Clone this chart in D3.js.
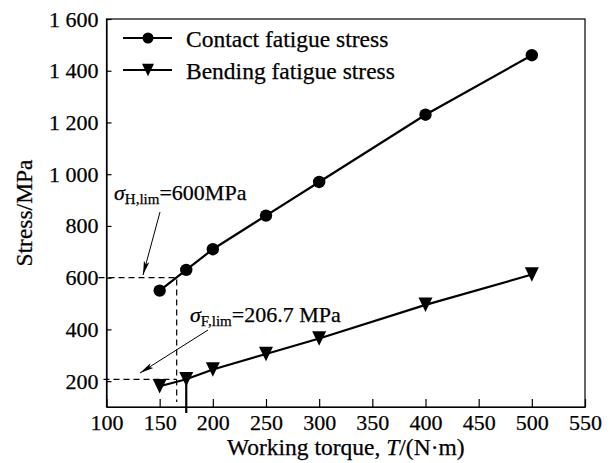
<!DOCTYPE html>
<html>
<head>
<meta charset="utf-8">
<script src="https://cdn.jsdelivr.net/npm/d3@7"></script>
<style>
  html, body { margin: 0; padding: 0; background: #fff; }
  svg { display: block; font-family: "Liberation Serif", "Times New Roman", serif; }
  text { fill: #000; stroke: #000; stroke-width: 0.25px; font-family: "Liberation Serif", "Times New Roman", serif; }
</style>
</head>
<body>
<svg id="chart" width="610" height="463"></svg>
<script>
// Working torque (N·m) at each test point
const torque = [150, 175, 200, 250, 300, 400, 500];
// Contact fatigue stress (MPa)
const contactStress = [550, 630, 710, 840, 970, 1230, 1460];
// Bending fatigue stress (MPa)
const bendingStress = [180, 207, 245, 305, 365, 495, 612];

// Axis ticks
const xTicks = [100, 150, 200, 250, 300, 350, 400, 450, 500, 550];
const yTicks = [200, 400, 600, 800, 1000, 1200, 1400, 1600];
const yTickLabels = ["200", "400", "600", "800", "1 000", "1 200", "1 400", "1 600"];

// Stress limits and the torques where each curve reaches them
const contactLimit = 600;      // σH,lim
const contactLimitTorque = 166;
const bendingLimit = 206.7;    // σF,lim
const bendingLimitTorque = 175;

const seriesNames = ["Contact fatigue stress", "Bending fatigue stress"];

const svg = d3.select("#chart");
const margin = { left: 106.5, top: 19, right: 25, bottom: 56 };
const W = 610, H = 463;

const x = d3.scaleLinear().domain([100, 550]).range([margin.left, W - margin.right]);
const y = d3.scaleLinear().domain([100, 1600]).range([H - margin.bottom, margin.top]);

const tickFont = 22;
const titleFont = 23.5;
const noteFont = 22;
const serif = "Liberation Serif, Times New Roman, serif";

// Frame
svg.append("rect")
  .attr("x", x(100)).attr("y", y(1600))
  .attr("width", x(550) - x(100)).attr("height", y(100) - y(1600))
  .attr("fill", "none").attr("stroke", "#000").attr("stroke-width", 1.2);

// Axes with inward ticks
const xAxis = d3.axisBottom(x).tickValues(xTicks).tickSizeInner(-8).tickSizeOuter(0).tickPadding(7);
const gx = svg.append("g").attr("transform", `translate(0,${y(100)})`).call(xAxis)
  .attr("font-family", serif).attr("font-size", tickFont);
gx.select(".domain").attr("stroke-width", 1.2);
gx.selectAll(".tick line").attr("stroke-width", 1.2);

const yAxis = d3.axisLeft(y).tickValues(yTicks)
  .tickFormat((d, i) => yTickLabels[i]).tickSizeInner(-5).tickSizeOuter(0).tickPadding(8);
const gy = svg.append("g").attr("transform", `translate(${x(100)},0)`).call(yAxis)
  .attr("font-family", serif).attr("font-size", tickFont);
gy.select(".domain").attr("stroke-width", 1.2);
gy.selectAll(".tick line").attr("stroke-width", 1.2);

// Axis titles
svg.append("text")
  .attr("transform", `translate(32,${(y(100) + y(1600)) / 2}) rotate(-90)`)
  .attr("text-anchor", "middle").attr("font-size", titleFont)
  .text("Stress/MPa");

const xt = svg.append("text")
  .attr("x", (x(100) + x(550)) / 2).attr("y", 455)
  .attr("text-anchor", "middle").attr("font-size", titleFont);
xt.append("tspan").text("Working torque, ");
xt.append("tspan").attr("font-style", "italic").text("T");
xt.append("tspan").text("/(N·m)");

// Limit guide lines
const dash = "6,4";
svg.append("path")
  .attr("d", `M${x(100) - 8},${y(contactLimit)} H${x(contactLimitTorque)} V${y(100) - 5}`)
  .attr("fill", "none").attr("stroke", "#000").attr("stroke-width", 1.2).attr("stroke-dasharray", dash);
svg.append("path")
  .attr("d", `M${x(100) - 3},${y(bendingLimit)} H${x(contactLimitTorque)}`)
  .attr("fill", "none").attr("stroke", "#000").attr("stroke-width", 1.2).attr("stroke-dasharray", dash);
svg.append("line")
  .attr("x1", x(bendingLimitTorque)).attr("x2", x(bendingLimitTorque))
  .attr("y1", y(bendingLimit)).attr("y2", y(100) + 6)
  .attr("stroke", "#000").attr("stroke-width", 2.2);

// Data lines
const line = d3.line().x(d => x(d[0])).y(d => y(d[1]));
const contactPts = torque.map((t, i) => [t, contactStress[i]]);
const bendingPts = torque.map((t, i) => [t, bendingStress[i]]);

svg.append("path").datum(contactPts).attr("d", line)
  .attr("fill", "none").attr("stroke", "#000").attr("stroke-width", 2.2);
svg.append("path").datum(bendingPts).attr("d", line)
  .attr("fill", "none").attr("stroke", "#000").attr("stroke-width", 2.2);

// Markers: filled circles and downward triangles
const downTri = (w, h) => `M${-w / 2},${-h / 2} L${w / 2},${-h / 2} L0,${h / 2} Z`;
svg.append("g").selectAll("circle").data(contactPts).join("circle")
  .attr("cx", d => x(d[0])).attr("cy", d => y(d[1])).attr("r", 6.2).attr("fill", "#000");
svg.append("g").selectAll("path").data(bendingPts).join("path")
  .attr("d", downTri(14, 14.5))
  .attr("transform", d => `translate(${x(d[0])},${y(d[1])})`)
  .attr("fill", "#000");

// Legend
const legendRows = [38, 70];
legendRows.forEach((ly, i) => {
  svg.append("line").attr("x1", 123).attr("x2", 172).attr("y1", ly).attr("y2", ly)
    .attr("stroke", "#000").attr("stroke-width", 2.2);
  if (i === 0) {
    svg.append("circle").attr("cx", 148).attr("cy", ly).attr("r", 5.5).attr("fill", "#000");
  } else {
    svg.append("path").attr("d", downTri(12, 12.5))
      .attr("transform", `translate(148,${ly})`).attr("fill", "#000");
  }
  svg.append("text").attr("x", 186).attr("y", ly + 9).attr("font-size", titleFont)
    .text(seriesNames[i]);
});

// Annotation arrows
const defs = svg.append("defs");
defs.append("marker").attr("id", "arrow")
  .attr("viewBox", "0 0 14 8").attr("refX", 14).attr("refY", 4)
  .attr("markerWidth", 14).attr("markerHeight", 8).attr("markerUnits", "userSpaceOnUse")
  .attr("orient", "auto")
  .append("path").attr("d", "M0,1.2 L14,4 L0,6.8 L3,4 Z").attr("fill", "#000");

svg.append("line").attr("x1", 160).attr("y1", 212).attr("x2", 143).attr("y2", 275)
  .attr("stroke", "#000").attr("stroke-width", 1).attr("marker-end", "url(#arrow)");
svg.append("line").attr("x1", 208).attr("y1", 330).attr("x2", 140).attr("y2", 373)
  .attr("stroke", "#000").attr("stroke-width", 1).attr("marker-end", "url(#arrow)");

// Annotation labels
function limitLabel(lx, ly, sub, rest) {
  const t = svg.append("text").attr("x", lx).attr("y", ly).attr("font-size", noteFont);
  t.append("tspan").attr("font-style", "italic").text("σ");
  t.append("tspan").attr("font-size", 15).attr("dy", 4).text(sub);
  t.append("tspan").attr("dy", -4).text(rest);
}
limitLabel(114, 200, "H,lim", "=600MPa");
limitLabel(190, 322, "F,lim", "=206.7 MPa");
</script>
</body>
</html>
